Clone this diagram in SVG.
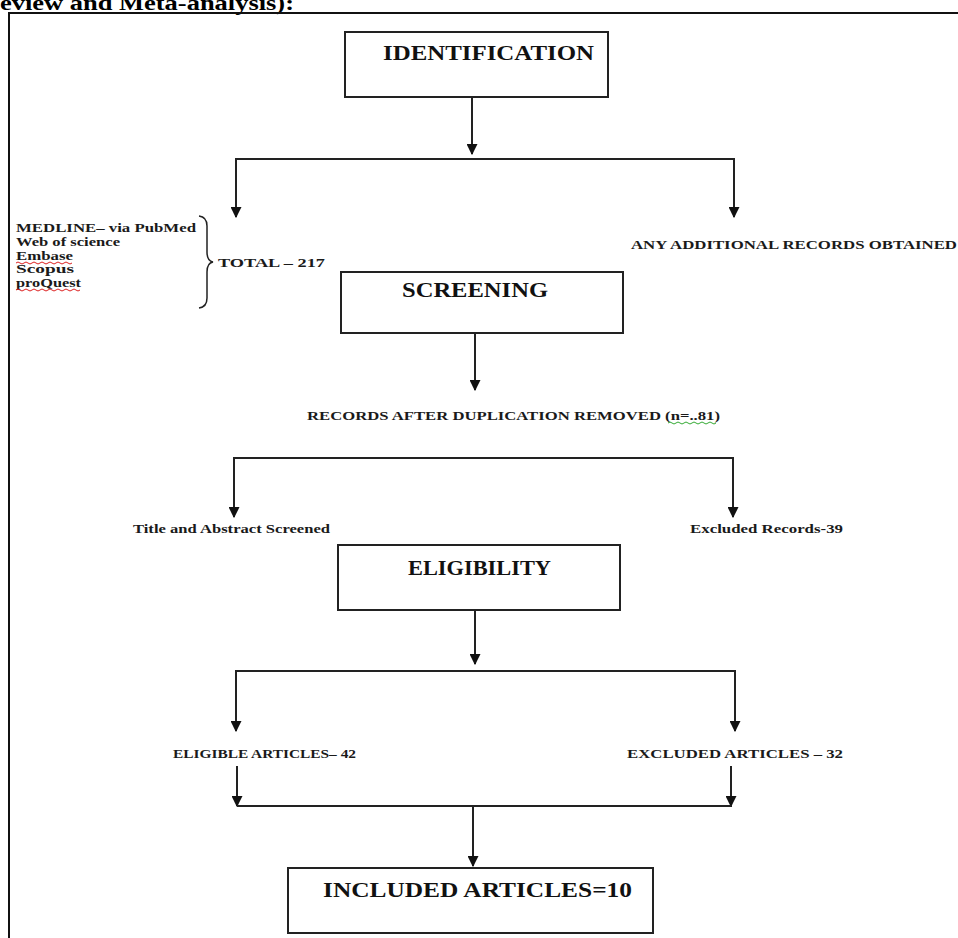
<svg xmlns="http://www.w3.org/2000/svg" width="958" height="938" viewBox="0 0 958 938">
<style>
.frame{fill:none;stroke:#111;stroke-width:2}
.box rect{fill:#fff;stroke:#222;stroke-width:2}
.big{font-family:"Liberation Serif","Times New Roman",serif;font-weight:bold;font-size:21px;fill:#111}
.sm{font-family:"Liberation Serif","Times New Roman",serif;font-weight:bold;font-size:12px;fill:#1a1a1a}
.title{font-family:"Liberation Serif","Times New Roman",serif;font-weight:bold;font-size:20px;fill:#000}
#connectors line,#connectors path{stroke:#222;stroke-width:2;fill:none}
.arr{marker-end:url(#ah)}
.squig{fill:none;stroke-width:1}
</style>
<defs>
<marker id="ah" viewBox="0 0 10 10" refX="9" refY="5" markerWidth="5.5" markerHeight="5.5" orient="auto" markerUnits="strokeWidth">
<path d="M0,0 L10,5 L0,10 z" fill="#111"/>
</marker>
</defs>
<rect width="958" height="938" fill="#fff"/>
<text class="title" x="0" y="10" textLength="294" lengthAdjust="spacingAndGlyphs">eview and Meta-analysis):</text>
<path class="frame" d="M9,938 V13 H958"/>

<g id="identification" class="box">
<rect x="345" y="32" width="263" height="65"/>
<text class="big" x="383" y="60" textLength="211" lengthAdjust="spacingAndGlyphs">IDENTIFICATION</text>
</g>

<g id="sources">
<text class="sm" x="16" y="232" textLength="180" lengthAdjust="spacingAndGlyphs">MEDLINE– via PubMed</text>
<text class="sm" x="16" y="246" textLength="104" lengthAdjust="spacingAndGlyphs">Web of science</text>
<text class="sm" x="16" y="260" textLength="57" lengthAdjust="spacingAndGlyphs">Embase</text>
<text class="sm" x="16" y="273" textLength="58" lengthAdjust="spacingAndGlyphs">Scopus</text>
<text class="sm" x="16" y="287" textLength="65" lengthAdjust="spacingAndGlyphs">proQuest</text>
<path class="squig" stroke="#d22" d="M16,263 q2,-2 4,0 t4,0 t4,0 t4,0 t4,0 t4,0 t4,0 t4,0 t4,0 t4,0 t4,0 t4,0 t4,0 t4,0"/>
<path class="squig" stroke="#d22" d="M16,290 q2,-2 4,0 t4,0 t4,0 t4,0 t4,0 t4,0 t4,0 t4,0 t4,0 t4,0 t4,0 t4,0 t4,0 t4,0 t4,0 t4,0"/>
<path d="M199,216 Q207,217 207,226 V252 Q207,261 213,262 Q207,263 207,272 V298 Q207,307 199,308" fill="none" stroke="#222" stroke-width="1.5"/>
<text class="sm" x="218" y="267" textLength="107" lengthAdjust="spacingAndGlyphs">TOTAL – 217</text>
</g>

<g id="additional">
<text class="sm" x="631" y="249" textLength="326" lengthAdjust="spacingAndGlyphs">ANY ADDITIONAL  RECORDS  OBTAINED</text>
</g>

<g id="screening" class="box">
<rect x="341" y="272" width="282" height="61"/>
<text class="big" x="402" y="297" textLength="146" lengthAdjust="spacingAndGlyphs">SCREENING</text>
</g>

<g id="records-after">
<text class="sm" x="307" y="420" textLength="413" lengthAdjust="spacingAndGlyphs">RECORDS AFTER DUPLICATION  REMOVED (n=..81)</text>
<path class="squig" stroke="#3a3" d="M668,423 q2,-2 4,0 t4,0 t4,0 t4,0 t4,0 t4,0 t4,0 t4,0 t4,0 t4,0 t4,0 t4,0"/>
</g>

<g id="title-abstract">
<text class="sm" x="133" y="533" textLength="197" lengthAdjust="spacingAndGlyphs">Title and Abstract Screened</text>
</g>

<g id="excluded-records">
<text class="sm" x="690" y="533" textLength="153" lengthAdjust="spacingAndGlyphs">Excluded Records-39</text>
</g>

<g id="eligibility" class="box">
<rect x="338" y="545" width="282" height="65"/>
<text class="big" x="408" y="575" textLength="143" lengthAdjust="spacingAndGlyphs">ELIGIBILITY</text>
</g>

<g id="eligible-articles">
<text class="sm" x="173" y="758" textLength="183" lengthAdjust="spacingAndGlyphs">ELIGIBLE ARTICLES– 42</text>
</g>

<g id="excluded-articles">
<text class="sm" x="627" y="758" textLength="216" lengthAdjust="spacingAndGlyphs">EXCLUDED ARTICLES – 32</text>
</g>

<g id="included" class="box">
<rect x="288" y="868" width="365" height="65"/>
<text class="big" x="323" y="897" textLength="309" lengthAdjust="spacingAndGlyphs">INCLUDED ARTICLES=10</text>
</g>

<g id="connectors">
<line class="arr" x1="472" y1="97" x2="472" y2="154"/>
<line x1="235" y1="159" x2="735" y2="159"/>
<line class="arr" x1="236" y1="159" x2="236" y2="217"/>
<line class="arr" x1="734" y1="159" x2="734" y2="217"/>
<line class="arr" x1="475" y1="333" x2="475" y2="390"/>
<line x1="233" y1="458" x2="734" y2="458"/>
<line class="arr" x1="234" y1="458" x2="234" y2="517"/>
<line class="arr" x1="733" y1="458" x2="733" y2="517"/>
<line class="arr" x1="475" y1="610" x2="475" y2="664"/>
<line x1="235" y1="671" x2="736" y2="671"/>
<line class="arr" x1="236" y1="671" x2="236" y2="731"/>
<line class="arr" x1="735" y1="671" x2="735" y2="731"/>
<line class="arr" x1="237" y1="766" x2="237" y2="806"/>
<line class="arr" x1="731" y1="766" x2="731" y2="806"/>
<line x1="237" y1="806" x2="732" y2="806"/>
<line class="arr" x1="473" y1="806" x2="473" y2="866"/>
</g>
</svg>
